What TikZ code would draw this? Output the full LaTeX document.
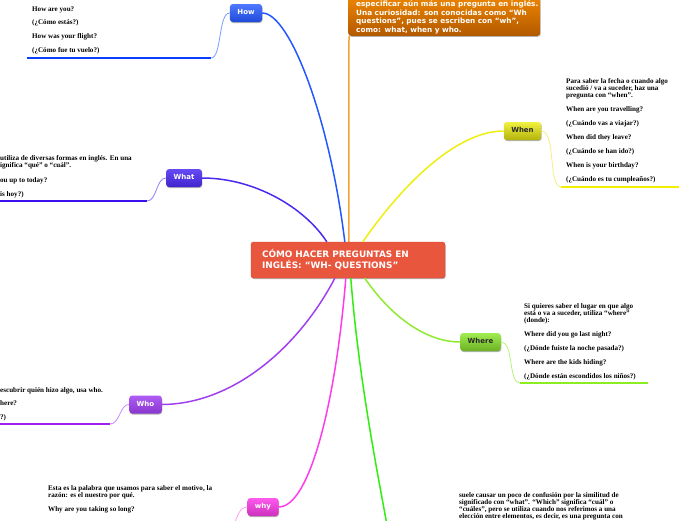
\documentclass[tikz,border=0pt]{standalone}
\usepackage{fontspec}
\setmainfont{Liberation Serif}
\newfontfamily\topicfont{DejaVu Sans}
\usetikzlibrary{shadows,calc}
\definecolor{howC}{HTML}{2457FF}\definecolor{howSub}{HTML}{7B9BFF}\definecolor{howLine}{HTML}{0A3FFF}
\definecolor{whatC}{HTML}{4B2AF2}\definecolor{whatSub}{HTML}{9080F5}\definecolor{whatLine}{HTML}{3A10F0}
\definecolor{whoC}{HTML}{A040F2}\definecolor{whoSub}{HTML}{C888F5}\definecolor{whoLine}{HTML}{A020F0}
\definecolor{whyC}{HTML}{FF3CEB}\definecolor{whySub}{HTML}{FF9CF2}
\definecolor{whenC}{HTML}{EEEE10}\definecolor{whenSub}{HTML}{F0F080}\definecolor{whenLine}{HTML}{F0F000}
\definecolor{whereC}{HTML}{90EA30}\definecolor{whereSub}{HTML}{B5F27A}\definecolor{whereLine}{HTML}{8AEE22}
\definecolor{greenC}{HTML}{30EE10}\definecolor{orangeC}{HTML}{F5A235}
\definecolor{ctrC}{HTML}{E9563E}\definecolor{ctrB}{HTML}{D9452F}
\definecolor{darkT}{HTML}{2A2A2A}
\hbadness=10000 \hfuzz=100pt
\begin{document}
\begin{tikzpicture}[x=1pt,y=-1pt,
  topic/.style={rounded corners=3pt, inner xsep=7.5pt, inner ysep=0pt, minimum height=18pt,
    text height=5.1pt, text depth=1.4pt, font=\topicfont\bfseries\fontsize{7}{8}\selectfont, text=white,
    drop shadow={shadow xshift=0.5pt, shadow yshift=-1pt, opacity=0.3, fill=black}},
  centre/.style={fill=ctrC, draw=ctrB, line width=0.4pt, rounded corners=2.5pt, text width=172pt,
    inner xsep=11pt, minimum height=36pt, align=left, text=white,
    font=\topicfont\bfseries\fontsize{8.9}{11}\selectfont,
    drop shadow={shadow xshift=0.5pt, shadow yshift=-1pt, opacity=0.3, fill=black}},
  orangebox/.style={rounded corners=3pt, top color=orange!85!yellow, bottom color=orange!70!black,
    inner xsep=8pt, inner ysep=2pt, text width=176pt, align=left, text=white,
    font=\topicfont\bfseries\fontsize{7.3}{8.5}\selectfont,
    drop shadow={shadow xshift=0.5pt, shadow yshift=-1pt, opacity=0.3, fill=black}},
  note/.style={anchor=north west, inner sep=0pt, align=left, text=black,
    font=\bfseries\fontsize{7.1}{7.1}\selectfont},
  branch/.style={line width=1.5pt},
  sub/.style={line width=0.8pt},
  uline/.style={line width=2.4pt},
]
\useasboundingbox (0,0) rectangle (696,520);

% central topic
\node[centre] (ctr) at (348,260) {CÓMO HACER PREGUNTAS EN\\INGLÉS: “WH- QUESTIONS”};

% main topics
\node[topic, top color=howC!80!white, bottom color=howC!85!black] (how) at (246,13) {How};
\node[topic, top color=whatC!85!white, bottom color=whatC!85!black] (what) at (184,178) {What};
\node[topic, top color=whoC!85!white, bottom color=whoC!85!black] (who) at (145.5,404.5) {Who};
\node[topic, top color=whyC!85!white, bottom color=whyC!80!black] (why) at (263,507) {why};
\node[topic, text=darkT, top color=whenC!80!white, bottom color=whenC!75!black] (when) at (522.5,131) {When};
\node[topic, text=darkT, top color=whereC!85!white, bottom color=whereC!75!black] (where) at (480.5,342) {Where};
\node[orangebox, anchor=south west] (orng) at (348,36) {\rule{0pt}{20pt}\mbox{especificar aún más una pregunta en inglés.}\\\mbox{Una curiosidad: son conocidas como “Wh}\\\mbox{questions”, pues se escriben con “wh”,}\\\mbox{como: what, when y who.}};

% notes
\node[note] (howN) at (32,6) {\rule{0pt}{5pt}How are you?\\[6.6pt](¿Cómo estás?)\\[6.6pt]How was your flight?\\[6.6pt](¿Cómo fue tu vuelo?)};
\node[note] (whatN) at (0,155) {\rule{0pt}{5pt}utiliza de diversas formas en inglés. En una\\ignifica “qué” o “cuál”.\\[7.9pt]ou up to today?\\[6.9pt]is hoy?)};
\node[note] (whoN) at (0,387) {\rule{0pt}{5pt}escubrir quién hizo algo, usa who.\\[6pt]here?\\[6.9pt]?)};
\node[note] (whyN) at (48,485) {\rule{0pt}{5pt}Esta es la palabra que usamos para saber el motivo, la\\razón: es el nuestro por qué.\\[6.9pt]Why are you taking so long?};
\node[note] (whenN) at (566,78) {\rule{0pt}{5pt}Para saber la fecha o cuando algo\\sucedió / va a suceder, haz una\\pregunta con “when”.\\[6.9pt]When are you travelling?\\[6.9pt](¿Cuándo vas a viajar?)\\[6.9pt]When did they leave?\\[6.9pt](¿Cuándo se han ido?)\\[6.9pt]When is your birthday?\\[6.9pt](¿Cuándo es tu cumpleaños?)};
\node[note] (whereN) at (524,303) {\rule{0pt}{5pt}Si quieres saber el lugar en que algo\\está o va a suceder, utiliza “where”\\(donde):\\[6.9pt]Where did you go last night?\\[6.9pt](¿Dónde fuiste la noche pasada?)\\[6.9pt]Where are the kids hiding?\\[6.9pt](¿Dónde están escondidos los niños?)};
\node[note] (whichN) at (459,492) {\rule{0pt}{5pt}suele causar un poco de confusión por la similitud de\\significado con “what”. “Which” significa “cuál” o\\“cuáles”, pero se utiliza cuando nos referimos a una\\elección entre elementos, es decir, es una pregunta con};

% branch anchor points on the central topic
\coordinate (sWhat) at ($(ctr.north west)+(76,0)$);
\coordinate (sHow) at ($(ctr.north west)+(94,0)$);
\coordinate (sOr) at ($(ctr.north west)+(98,0)$);
\coordinate (sWhen) at ($(ctr.north west)+(112,0)$);
\coordinate (sWho) at ($(ctr.south west)+(84,0)$);
\coordinate (sWhy) at ($(ctr.south west)+(95,0)$);
\coordinate (sGr) at ($(ctr.south west)+(100,0)$);
\coordinate (sWhere) at ($(ctr.south west)+(114,0)$);
\coordinate (eGr) at (387,525);
\coordinate (eWhy) at (233,528);

% underline coordinates
\coordinate (howU1) at (27,58);   \coordinate (howU2) at (211,58);
\coordinate (whatU1) at (-5,201); \coordinate (whatU2) at (147,201);
\coordinate (whoU1) at (-5,424);  \coordinate (whoU2) at (110,424);
\coordinate (whenU1) at (561,187);\coordinate (whenU2) at (679,187);
\coordinate (whereU1) at (520,383);\coordinate (whereU2) at (648,383);

% main branches
\draw[branch, orangeC] (sOr) -- ($(orng.south west)+(1,0)$);
\draw[branch, howC] (sHow) .. controls (330,120) and (290,13) .. (how.east);
\draw[branch, whatC] (sWhat) .. controls (305,208) and (255,178) .. (what.east);
\draw[branch, whenC] (sWhen) .. controls (400,188) and (455,131) .. (when.west);
\draw[branch, whoC] (sWho) .. controls (300,345) and (235,404) .. (who.east);
\draw[branch, whyC] (sWhy) .. controls (336,400) and (310,507) .. (why.east);
\draw[branch, greenC] (sGr) .. controls (358,370) and (374,455) .. (eGr);
\draw[branch, whereC] (sWhere) .. controls (390,315) and (425,342) .. (where.west);

% sub connectors and underlines
\draw[sub, howSub] (how.west) .. controls (218,13) and (222,58) .. (howU2);
\draw[uline, howLine] (howU1) -- (howU2);
\draw[sub, whatSub] (what.west) .. controls (156,178) and (157,201) .. (whatU2);
\draw[uline, whatLine] (whatU1) -- (whatU2);
\draw[sub, whoSub] (who.west) .. controls (120,404) and (120,424) .. (whoU2);
\draw[uline, whoLine] (whoU1) -- (whoU2);
\draw[sub, whenSub] (when.east) .. controls (556,131) and (548,187) .. (whenU1);
\draw[uline, whenLine] (whenU1) -- (whenU2);
\draw[sub, whereSub] (where.east) .. controls (514,342) and (508,383) .. (whereU1);
\draw[uline, whereLine] (whereU1) -- (whereU2);
\draw[sub, whySub] (why.west) .. controls (240,507) and (238,514) .. (eWhy);
\end{tikzpicture}
\end{document}
